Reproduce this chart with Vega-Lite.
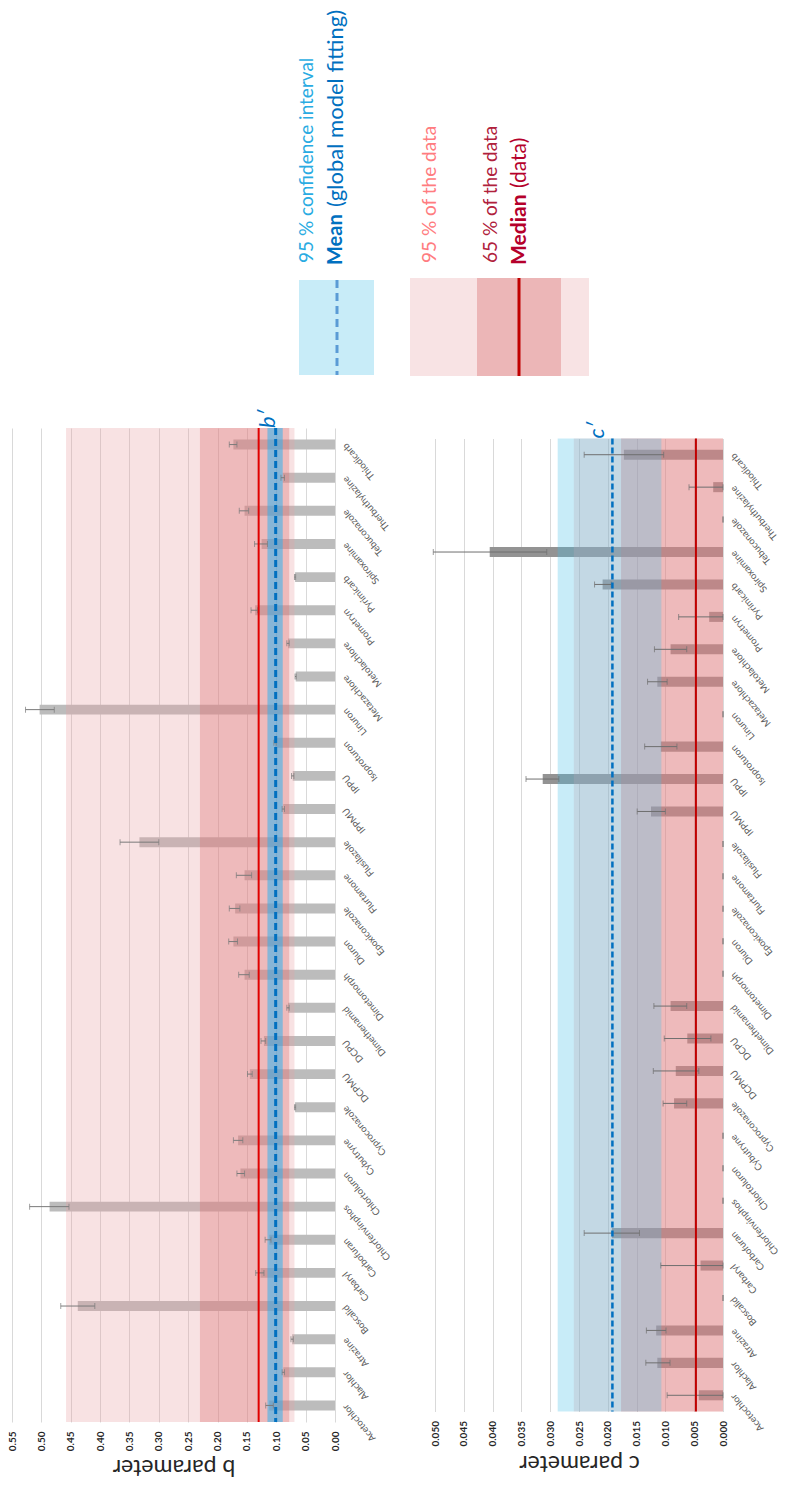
{
  "$schema": "https://vega.github.io/schema/vega-lite/v6.json",
  "padding": {"left": 7, "top": 0, "right": 0, "bottom": 0},
  "config": {"font": "Lato", "view": {"stroke": null}},
  "datasets": {
    "b": [
      {"name": "Acetochlor", "value": 0.112, "lo": 0.105, "hi": 0.118},
      {"name": "Alachlor", "value": 0.088, "lo": 0.086, "hi": 0.090},
      {"name": "Atrazine", "value": 0.073, "lo": 0.071, "hi": 0.075},
      {"name": "Boscalid", "value": 0.438, "lo": 0.409, "hi": 0.467},
      {"name": "Carbaryl", "value": 0.127, "lo": 0.121, "hi": 0.135},
      {"name": "Carbofuran", "value": 0.112, "lo": 0.109, "hi": 0.119},
      {"name": "Chlorfenvinphos", "value": 0.486, "lo": 0.453, "hi": 0.520},
      {"name": "Chlortoluron", "value": 0.161, "lo": 0.154, "hi": 0.167},
      {"name": "Cybutryne", "value": 0.165, "lo": 0.157, "hi": 0.173},
      {"name": "Cyproconazole", "value": 0.068, "lo": 0.067, "hi": 0.069},
      {"name": "DCPMU", "value": 0.145, "lo": 0.141, "hi": 0.149},
      {"name": "DCPU", "value": 0.121, "lo": 0.118, "hi": 0.126},
      {"name": "Dimethenamid", "value": 0.080, "lo": 0.078, "hi": 0.082},
      {"name": "Dimetomorph", "value": 0.154, "lo": 0.146, "hi": 0.164},
      {"name": "Diuron", "value": 0.173, "lo": 0.166, "hi": 0.181},
      {"name": "Epoxiconazole", "value": 0.170, "lo": 0.162, "hi": 0.180},
      {"name": "Flurtamone", "value": 0.154, "lo": 0.142, "hi": 0.168},
      {"name": "Flusilazole", "value": 0.333, "lo": 0.300, "hi": 0.366},
      {"name": "IPPMU", "value": 0.088, "lo": 0.086, "hi": 0.090},
      {"name": "IPPU", "value": 0.072, "lo": 0.070, "hi": 0.074},
      {"name": "Isoproturon", "value": 0.102, "lo": 0.100, "hi": 0.104},
      {"name": "Linuron", "value": 0.503, "lo": 0.478, "hi": 0.527},
      {"name": "Metazachlore", "value": 0.067, "lo": 0.066, "hi": 0.068},
      {"name": "Metolachlore", "value": 0.080, "lo": 0.078, "hi": 0.082},
      {"name": "Prometryn", "value": 0.136, "lo": 0.132, "hi": 0.143},
      {"name": "Pyrimicarb", "value": 0.068, "lo": 0.067, "hi": 0.069},
      {"name": "Spiroxamine", "value": 0.125, "lo": 0.115, "hi": 0.137},
      {"name": "Tebuconazole", "value": 0.154, "lo": 0.147, "hi": 0.163},
      {"name": "Therbuthylazine", "value": 0.089, "lo": 0.086, "hi": 0.092},
      {"name": "Thiodicarb", "value": 0.173, "lo": 0.167, "hi": 0.180}
    ],
    "c": [
      {"name": "Acetochlor", "value": 0.0042, "lo": 0, "hi": 0.0097},
      {"name": "Alachlor", "value": 0.0114, "lo": 0.0092, "hi": 0.0134},
      {"name": "Atrazine", "value": 0.0116, "lo": 0.0099, "hi": 0.0133},
      {"name": "Boscalid", "value": 0, "lo": 0, "hi": 0},
      {"name": "Carbaryl", "value": 0.0039, "lo": 0, "hi": 0.0108},
      {"name": "Carbofuran", "value": 0.0193, "lo": 0.0145, "hi": 0.0241},
      {"name": "Chlorfenvinphos", "value": 0, "lo": 0, "hi": 0},
      {"name": "Chlortoluron", "value": 0, "lo": 0, "hi": 0},
      {"name": "Cybutryne", "value": 0, "lo": 0, "hi": 0},
      {"name": "Cyproconazole", "value": 0.0085, "lo": 0.0063, "hi": 0.0104},
      {"name": "DCPMU", "value": 0.0082, "lo": 0.0042, "hi": 0.0121},
      {"name": "DCPU", "value": 0.0062, "lo": 0.0021, "hi": 0.0102},
      {"name": "Dimethenamid", "value": 0.0091, "lo": 0.0063, "hi": 0.0120},
      {"name": "Dimetomorph", "value": 0, "lo": 0, "hi": 0},
      {"name": "Diuron", "value": 0, "lo": 0, "hi": 0},
      {"name": "Epoxiconazole", "value": 0, "lo": 0, "hi": 0},
      {"name": "Flurtamone", "value": 0, "lo": 0, "hi": 0},
      {"name": "Flusilazole", "value": 0, "lo": 0, "hi": 0},
      {"name": "IPPMU", "value": 0.0125, "lo": 0.0100, "hi": 0.0149},
      {"name": "IPPU", "value": 0.0313, "lo": 0.0285, "hi": 0.0342},
      {"name": "Isoproturon", "value": 0.0108, "lo": 0.0080, "hi": 0.0136},
      {"name": "Linuron", "value": 0, "lo": 0, "hi": 0},
      {"name": "Metazachlore", "value": 0.0114, "lo": 0.0097, "hi": 0.0131},
      {"name": "Metolachlore", "value": 0.0091, "lo": 0.0063, "hi": 0.0119},
      {"name": "Prometryn", "value": 0.0024, "lo": 0, "hi": 0.0077},
      {"name": "Pyrimicarb", "value": 0.0209, "lo": 0.0194, "hi": 0.0223},
      {"name": "Spiroxamine", "value": 0.0405, "lo": 0.0306, "hi": 0.0503},
      {"name": "Tebuconazole", "value": 0, "lo": 0, "hi": 0},
      {"name": "Therbuthylazine", "value": 0.0017, "lo": 0, "hi": 0.0059},
      {"name": "Thiodicarb", "value": 0.0172, "lo": 0.0103, "hi": 0.0241}
    ],
    "bref": [{"p95lo": 0.069, "p95hi": 0.458, "p65lo": 0.078, "p65hi": 0.230, "cilo": 0.089, "cihi": 0.115, "mean": 0.101, "median": 0.130}],
    "cref": [{"p95lo": 0, "p95hi": 0.0259, "p65lo": 0, "p65hi": 0.0177, "cilo": 0.0107, "cihi": 0.0287, "mean": 0.0192, "median": 0.0047}]
  },
  "bounds": "flush",
  "spacing": 28,
  "vconcat": [
    {
      "width": 772,
      "height": 400,
      "data": {"values": [{"legend": "key"}]},
      "layer": [
        {"mark": {"type": "rect", "color": "#c8ecf8"},
         "encoding": {
           "x": {"datum": 287, "type": "quantitative", "scale": {"domain": [0, 772], "nice": false, "zero": false}, "axis": null},
           "x2": {"datum": 362},
           "y": {"datum": 280, "type": "quantitative", "scale": {"domain": [0, 400], "reverse": true, "nice": false, "zero": false}, "axis": null},
           "y2": {"datum": 375}}},
        {"mark": {"type": "rule", "color": "#5b9bd5", "strokeWidth": 3, "strokeDash": [8, 5]},
         "encoding": {"x": {"datum": 325, "type": "quantitative"}, "y": {"datum": 280, "type": "quantitative"}, "y2": {"datum": 375}}},
        {"mark": {"type": "rect", "color": "#f8e3e4"},
         "encoding": {"x": {"datum": 398, "type": "quantitative"}, "x2": {"datum": 577}, "y": {"datum": 278, "type": "quantitative"}, "y2": {"datum": 376}}},
        {"mark": {"type": "rect", "color": "#ecb6b7"},
         "encoding": {"x": {"datum": 465, "type": "quantitative"}, "x2": {"datum": 549}, "y": {"datum": 278, "type": "quantitative"}, "y2": {"datum": 376}}},
        {"mark": {"type": "rule", "color": "#c00000", "strokeWidth": 3},
         "encoding": {"x": {"datum": 507, "type": "quantitative"}, "y": {"datum": 278, "type": "quantitative"}, "y2": {"datum": 376}}},
        {"mark": {"type": "text", "text": "95 % confidence interval", "angle": 270, "align": "left", "baseline": "middle", "fontSize": 19, "color": "#29abe2"},
         "encoding": {"x": {"datum": 295, "type": "quantitative"}, "y": {"datum": 263, "type": "quantitative"}}},
        {"mark": {"type": "text", "text": "Mean", "angle": 270, "align": "left", "baseline": "middle", "fontSize": 20, "fontWeight": "bold", "color": "#0070c0"},
         "encoding": {"x": {"datum": 324, "type": "quantitative"}, "y": {"datum": 265, "type": "quantitative"}}},
        {"mark": {"type": "text", "text": "(global model fitting)", "angle": 270, "align": "left", "baseline": "middle", "fontSize": 22, "color": "#0070c0"},
         "encoding": {"x": {"datum": 324, "type": "quantitative"}, "y": {"datum": 207, "type": "quantitative"}}},
        {"mark": {"type": "text", "text": "95 % of the data", "angle": 270, "align": "left", "baseline": "middle", "fontSize": 19, "color": "#ff7c80"},
         "encoding": {"x": {"datum": 418, "type": "quantitative"}, "y": {"datum": 263, "type": "quantitative"}}},
        {"mark": {"type": "text", "text": "65 % of the data", "angle": 270, "align": "left", "baseline": "middle", "fontSize": 19, "color": "#b0213c"},
         "encoding": {"x": {"datum": 479, "type": "quantitative"}, "y": {"datum": 263, "type": "quantitative"}}},
        {"mark": {"type": "text", "text": "Median", "angle": 270, "align": "left", "baseline": "middle", "fontSize": 21, "fontWeight": "bold", "color": "#b5002b"},
         "encoding": {"x": {"datum": 508, "type": "quantitative"}, "y": {"datum": 265, "type": "quantitative"}}},
        {"mark": {"type": "text", "text": "(data)", "angle": 270, "align": "left", "baseline": "middle", "fontSize": 21, "color": "#b5002b"},
         "encoding": {"x": {"datum": 508, "type": "quantitative"}, "y": {"datum": 188, "type": "quantitative"}}}
      ]
    },
    {
      "bounds": "flush",
      "spacing": 100,
      "center": true,
      "hconcat": [
        {
          "width": 323,
          "height": 994,
          "layer": [
            {"data": {"name": "b"},
             "mark": {"type": "bar", "color": "#bcbcbc", "height": {"band": 0.3}},
             "encoding": {
               "y": {"field": "name", "type": "nominal", "sort": ["Thiodicarb","Therbuthylazine","Tebuconazole","Spiroxamine","Pyrimicarb","Prometryn","Metolachlore","Metazachlore","Linuron","Isoproturon","IPPU","IPPMU","Flusilazole","Flurtamone","Epoxiconazole","Diuron","Dimetomorph","Dimethenamid","DCPU","DCPMU","Cyproconazole","Cybutryne","Chlortoluron","Chlorfenvinphos","Carbofuran","Carbaryl","Boscalid","Atrazine","Alachlor","Acetochlor"],
                     "scale": {"paddingInner": 0, "paddingOuter": 0},
                     "axis": {"orient": "right", "title": null, "labelAngle": 230, "labelAlign": "right", "labelBaseline": "middle", "labelFontSize": 9.5, "labelColor": "#595959", "labelPadding": 9, "domain": false, "ticks": false, "grid": false, "labelOverlap": false, "labelBound": false}},
               "x": {"field": "value", "type": "quantitative", "title": "b parameter",
                     "scale": {"domain": [0, 0.55], "reverse": true, "nice": false},
                     "axis": {"orient": "bottom", "values": [0, 0.05, 0.1, 0.15, 0.2, 0.25, 0.3, 0.35, 0.4, 0.45, 0.5, 0.55], "tickCount": 30, "format": ".2f", "labelAngle": 270, "labelFontSize": 10, "labelFontWeight": "bold", "labelColor": "#262626", "labelPadding": 9, "labelFlush": false, "labelOverlap": false, "labelBound": false, "domain": false, "ticks": false, "grid": true, "gridColor": "#d9d9d9", "gridWidth": 1, "titleAngle": 180, "titleBaseline": "bottom", "titleFontSize": 23, "titleFontWeight": "normal", "titleColor": "#262626", "titlePadding": 4}}}},
            {"data": {"name": "bref"},
             "mark": {"type": "rect", "color": "#e8a0a3", "opacity": 0.3},
             "encoding": {"x": {"field": "p95lo", "type": "quantitative", "title": "b parameter"}, "x2": {"field": "p95hi"}}},
            {"data": {"name": "bref"},
             "mark": {"type": "rect", "color": "#de7070", "opacity": 0.35},
             "encoding": {"x": {"field": "p65lo", "type": "quantitative", "title": "b parameter"}, "x2": {"field": "p65hi"}}},
            {"data": {"name": "bref"},
             "mark": {"type": "rect", "color": "#1fb1f3", "opacity": 0.5},
             "encoding": {"x": {"field": "cilo", "type": "quantitative", "title": "b parameter"}, "x2": {"field": "cihi"}}},
            {"data": {"name": "b"},
             "mark": {"type": "rule", "color": "#7a7a7a", "strokeWidth": 1},
             "encoding": {
               "y": {"field": "name", "type": "nominal", "title": null, "sort": ["Thiodicarb","Therbuthylazine","Tebuconazole","Spiroxamine","Pyrimicarb","Prometryn","Metolachlore","Metazachlore","Linuron","Isoproturon","IPPU","IPPMU","Flusilazole","Flurtamone","Epoxiconazole","Diuron","Dimetomorph","Dimethenamid","DCPU","DCPMU","Cyproconazole","Cybutryne","Chlortoluron","Chlorfenvinphos","Carbofuran","Carbaryl","Boscalid","Atrazine","Alachlor","Acetochlor"]},
               "x": {"field": "lo", "type": "quantitative", "title": "b parameter"},
               "x2": {"field": "hi"}}},
            {"data": {"name": "b"},
             "mark": {"type": "tick", "color": "#7a7a7a", "thickness": 1, "size": 6},
             "encoding": {
               "y": {"field": "name", "type": "nominal", "title": null, "sort": ["Thiodicarb","Therbuthylazine","Tebuconazole","Spiroxamine","Pyrimicarb","Prometryn","Metolachlore","Metazachlore","Linuron","Isoproturon","IPPU","IPPMU","Flusilazole","Flurtamone","Epoxiconazole","Diuron","Dimetomorph","Dimethenamid","DCPU","DCPMU","Cyproconazole","Cybutryne","Chlortoluron","Chlorfenvinphos","Carbofuran","Carbaryl","Boscalid","Atrazine","Alachlor","Acetochlor"]},
               "x": {"field": "lo", "type": "quantitative", "title": "b parameter"}}},
            {"data": {"name": "b"},
             "mark": {"type": "tick", "color": "#7a7a7a", "thickness": 1, "size": 6},
             "encoding": {
               "y": {"field": "name", "type": "nominal", "title": null, "sort": ["Thiodicarb","Therbuthylazine","Tebuconazole","Spiroxamine","Pyrimicarb","Prometryn","Metolachlore","Metazachlore","Linuron","Isoproturon","IPPU","IPPMU","Flusilazole","Flurtamone","Epoxiconazole","Diuron","Dimetomorph","Dimethenamid","DCPU","DCPMU","Cyproconazole","Cybutryne","Chlortoluron","Chlorfenvinphos","Carbofuran","Carbaryl","Boscalid","Atrazine","Alachlor","Acetochlor"]},
               "x": {"field": "hi", "type": "quantitative", "title": "b parameter"}}},
            {"data": {"name": "bref"},
             "mark": {"type": "rule", "color": "#e00000", "strokeWidth": 2},
             "encoding": {"x": {"field": "median", "type": "quantitative", "title": "b parameter"}}},
            {"data": {"name": "bref"},
             "mark": {"type": "rule", "color": "#0070c0", "strokeWidth": 3, "strokeDash": [7, 4]},
             "encoding": {"x": {"field": "mean", "type": "quantitative", "title": "b parameter"}}},
            {"data": {"name": "bref"},
             "mark": {"type": "text", "text": "b′", "angle": 270, "align": "left", "baseline": "middle", "fontSize": 22, "fontStyle": "italic", "color": "#0070c0", "dy": -8},
             "encoding": {"x": {"field": "mean", "type": "quantitative", "title": "b parameter"}, "y": {"value": 0}}}
          ]
        },
        {
          "width": 288,
          "height": 973,
          "layer": [
            {"data": {"name": "c"},
             "mark": {"type": "bar", "color": "#939393", "height": {"band": 0.31}},
             "encoding": {
               "y": {"field": "name", "type": "nominal", "sort": ["Thiodicarb","Therbuthylazine","Tebuconazole","Spiroxamine","Pyrimicarb","Prometryn","Metolachlore","Metazachlore","Linuron","Isoproturon","IPPU","IPPMU","Flusilazole","Flurtamone","Epoxiconazole","Diuron","Dimetomorph","Dimethenamid","DCPU","DCPMU","Cyproconazole","Cybutryne","Chlortoluron","Chlorfenvinphos","Carbofuran","Carbaryl","Boscalid","Atrazine","Alachlor","Acetochlor"],
                     "scale": {"paddingInner": 0, "paddingOuter": 0},
                     "axis": {"orient": "right", "title": null, "labelAngle": 230, "labelAlign": "right", "labelBaseline": "middle", "labelFontSize": 9.5, "labelColor": "#595959", "labelPadding": 9, "domain": false, "ticks": false, "grid": false, "labelOverlap": false, "labelBound": false}},
               "x": {"field": "value", "type": "quantitative", "title": "c parameter",
                     "scale": {"domain": [0, 0.05], "reverse": true, "nice": false},
                     "axis": {"orient": "bottom", "values": [0, 0.005, 0.01, 0.015, 0.02, 0.025, 0.03, 0.035, 0.04, 0.045, 0.05], "tickCount": 30, "format": ".3f", "labelAngle": 270, "labelFontSize": 10, "labelFontWeight": "bold", "labelColor": "#262626", "labelPadding": 9, "labelFlush": false, "labelOverlap": false, "labelBound": false, "domain": false, "ticks": false, "grid": true, "gridColor": "#d9d9d9", "gridWidth": 1, "titleAngle": 180, "titleBaseline": "bottom", "titleFontSize": 23, "titleFontWeight": "normal", "titleColor": "#262626", "titlePadding": 4}}}},
            {"data": {"name": "cref"},
             "mark": {"type": "rect", "color": "#e8a0a3", "opacity": 0.3},
             "encoding": {"x": {"field": "p95lo", "type": "quantitative", "title": "c parameter"}, "x2": {"field": "p95hi"}}},
            {"data": {"name": "cref"},
             "mark": {"type": "rect", "color": "#de7070", "opacity": 0.35},
             "encoding": {"x": {"field": "p65lo", "type": "quantitative", "title": "c parameter"}, "x2": {"field": "p65hi"}}},
            {"data": {"name": "cref"},
             "mark": {"type": "rect", "color": "#48c0e8", "opacity": 0.3},
             "encoding": {"x": {"field": "cilo", "type": "quantitative", "title": "c parameter"}, "x2": {"field": "cihi"}}},
            {"data": {"name": "c"},
             "mark": {"type": "rule", "color": "#6f6f6f", "strokeWidth": 1},
             "encoding": {
               "y": {"field": "name", "type": "nominal", "title": null, "sort": ["Thiodicarb","Therbuthylazine","Tebuconazole","Spiroxamine","Pyrimicarb","Prometryn","Metolachlore","Metazachlore","Linuron","Isoproturon","IPPU","IPPMU","Flusilazole","Flurtamone","Epoxiconazole","Diuron","Dimetomorph","Dimethenamid","DCPU","DCPMU","Cyproconazole","Cybutryne","Chlortoluron","Chlorfenvinphos","Carbofuran","Carbaryl","Boscalid","Atrazine","Alachlor","Acetochlor"]},
               "x": {"field": "lo", "type": "quantitative", "title": "c parameter"},
               "x2": {"field": "hi"}}},
            {"data": {"name": "c"},
             "mark": {"type": "tick", "color": "#6f6f6f", "thickness": 1, "size": 6},
             "encoding": {
               "y": {"field": "name", "type": "nominal", "title": null, "sort": ["Thiodicarb","Therbuthylazine","Tebuconazole","Spiroxamine","Pyrimicarb","Prometryn","Metolachlore","Metazachlore","Linuron","Isoproturon","IPPU","IPPMU","Flusilazole","Flurtamone","Epoxiconazole","Diuron","Dimetomorph","Dimethenamid","DCPU","DCPMU","Cyproconazole","Cybutryne","Chlortoluron","Chlorfenvinphos","Carbofuran","Carbaryl","Boscalid","Atrazine","Alachlor","Acetochlor"]},
               "x": {"field": "lo", "type": "quantitative", "title": "c parameter"}}},
            {"data": {"name": "c"},
             "mark": {"type": "tick", "color": "#6f6f6f", "thickness": 1, "size": 6},
             "encoding": {
               "y": {"field": "name", "type": "nominal", "title": null, "sort": ["Thiodicarb","Therbuthylazine","Tebuconazole","Spiroxamine","Pyrimicarb","Prometryn","Metolachlore","Metazachlore","Linuron","Isoproturon","IPPU","IPPMU","Flusilazole","Flurtamone","Epoxiconazole","Diuron","Dimetomorph","Dimethenamid","DCPU","DCPMU","Cyproconazole","Cybutryne","Chlortoluron","Chlorfenvinphos","Carbofuran","Carbaryl","Boscalid","Atrazine","Alachlor","Acetochlor"]},
               "x": {"field": "hi", "type": "quantitative", "title": "c parameter"}}},
            {"data": {"name": "cref"},
             "mark": {"type": "rule", "color": "#c00000", "strokeWidth": 2},
             "encoding": {"x": {"field": "median", "type": "quantitative", "title": "c parameter"}}},
            {"data": {"name": "cref"},
             "mark": {"type": "rule", "color": "#0070c0", "strokeWidth": 2.5, "strokeDash": [6, 3]},
             "encoding": {"x": {"field": "mean", "type": "quantitative", "title": "c parameter"}}},
            {"data": {"name": "cref"},
             "mark": {"type": "text", "text": "c′", "angle": 270, "align": "left", "baseline": "middle", "fontSize": 22, "fontStyle": "italic", "color": "#0070c0", "dy": -15},
             "encoding": {"x": {"field": "mean", "type": "quantitative", "title": "c parameter"}, "y": {"value": 0}}}
          ]
        }
      ]
    }
  ]
}
